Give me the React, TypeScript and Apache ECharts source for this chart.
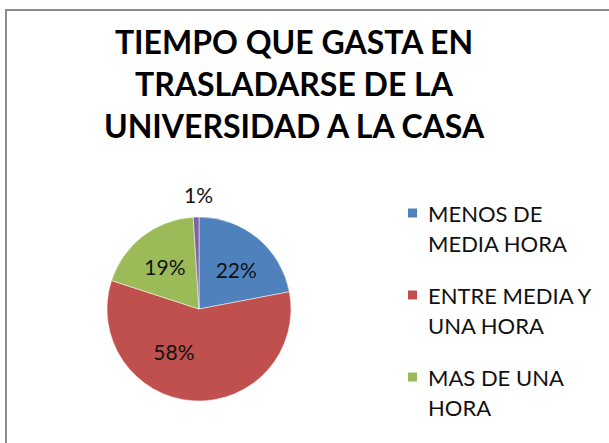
import React, { useEffect, useRef } from "react";
import * as echarts from "echarts";

const titleLines = ["TIEMPO QUE GASTA EN", "TRASLADARSE DE LA", "UNIVERSIDAD A LA CASA"];
const categories = ["MENOS DE MEDIA HORA", "ENTRE MEDIA Y UNA HORA", "MAS DE UNA HORA", "OTRO"];
const legendLines = [["MENOS DE", "MEDIA HORA"], ["ENTRE MEDIA Y", "UNA HORA"], ["MAS DE UNA", "HORA"], ["OTRO"]];
const values = [22, 58, 19, 1];
const colors = ["#4F81BD", "#C0504D", "#9BBB59", "#8064A2"];
const labelOffsets = [[6, -2], [-22, -6], [-4, -4], [22, -19]];

export default function App() {
  const ref = useRef<HTMLDivElement>(null);
  useEffect(() => {
    if (!ref.current) return;
    const chart = echarts.init(ref.current, null, { renderer: "svg" });
    chart.setOption({
      animation: false,
      backgroundColor: "#ffffff",
      title: {
        text: titleLines.join("\n"),
        left: 294,
        top: 20,
        padding: 0,
        textAlign: "center",
        textStyle: {
          fontFamily: "Lato",
          fontWeight: "bold",
          fontSize: 32,
          lineHeight: 42,
          color: "#000000",
        },
      },
      legend: {
        orient: "vertical",
        left: 406,
        top: 168,
        padding: 0,
        itemGap: -8,
        itemWidth: 11,
        itemHeight: 11,
        icon: "rect",
        data: categories.slice(0, 3),
        formatter: (name: string) => {
          const lines = legendLines[categories.indexOf(name)];
          return ["{t| }"].concat(lines.map((l) => `{t|${l}}`)).join("\n");
        },
        textStyle: {
          fontFamily: "Lato",
          fontSize: 22,
          lineHeight: 30,
          color: "#111111",
          rich: {
            t: {
              fontFamily: "Lato",
              fontSize: 22,
              lineHeight: 30,
              color: "#111111",
              padding: [0, 0, 0, 5],
            },
          },
        },
      },
      graphic: [
        {
          type: "rect",
          shape: { x: 6, y: 10, width: 700, height: 600 },
          style: { fill: "none", stroke: "#8c8c8c", lineWidth: 2 },
          silent: true,
        },
      ],
      series: [
        {
          type: "pie",
          center: [199, 309],
          radius: 92,
          startAngle: 90,
          clockwise: true,
          avoidLabelOverlap: false,
          itemStyle: { borderColor: "#ffffff", borderWidth: 0.5 },
          label: {
            show: true,
            position: "inside",
            formatter: "{c}%",
            fontFamily: "Lato",
            fontSize: 21,
            color: "#111111",
          },
          labelLine: { show: false },
          labelLayout: (params: any) => ({
            dx: labelOffsets[params.dataIndex][0],
            dy: labelOffsets[params.dataIndex][1],
          }),
          data: categories.map((c, i) => ({
            name: c,
            value: values[i],
            itemStyle: { color: colors[i] },
            ...(i === 3
              ? {
                  label: { position: "outside" },
                  labelLine: { show: false, length: 4, length2: 0 },
                }
              : {}),
          })),
        },
      ],
    });
    return () => chart.dispose();
  }, []);
  return (
    <div
      ref={ref}
      style={{ position: "fixed", left: 0, top: 0, width: 609, height: 443 }}
    />
  );
}
